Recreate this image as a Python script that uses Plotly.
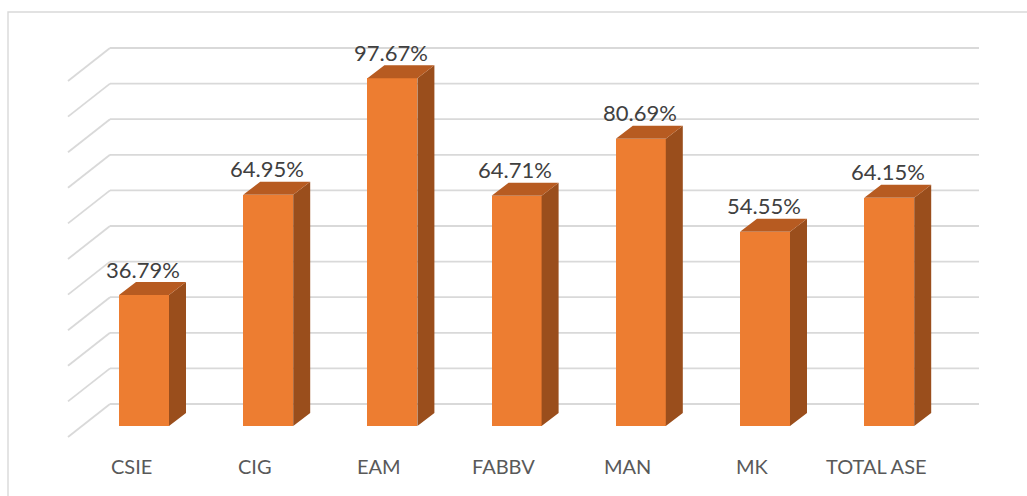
import plotly.graph_objects as go

categories = ["CSIE", "CIG", "EAM", "FABBV", "MAN", "MK", "TOTAL ASE"]
values = [36.79, 64.95, 97.67, 64.71, 80.69, 54.55, 64.15]
grid_values = [0, 10, 20, 30, 40, 50, 60, 70, 80, 90, 100]

FRONT = "#ED7D31"
TOP = "#B75B21"
SIDE = "#9A4E1C"
GRID = "#D9D9D9"

W = 1027
H = 496
# pixel geometry helpers (converted to data units)
PX_X = 124.2          # px per category
PX_Y = 3.56           # px per percent
x0 = -144 / PX_X
x1 = (W - 144) / PX_X
y1 = 426 / PX_Y
y0 = (426 - H) / PX_Y

bw = 50 / PX_X        # front face width
ddx = 17 / PX_X       # depth offset x
ddy = 13 / PX_Y       # depth offset y
wall_dy = 22 / PX_Y   # back wall offset
floor_dx = 42 / PX_X
floor_dy = 33 / PX_Y
wall_x0 = (110 - 144) / PX_X
wall_x1 = (979 - 144) / PX_X

xs = list(range(len(categories)))

fig = go.Figure()

# front faces
fig.add_trace(go.Bar(x=xs, y=values, width=bw, marker=dict(color=FRONT, line=dict(width=0)),
                     hoverinfo="skip", showlegend=False))

# side and top faces
sx, sy = [], []
tx, ty = [], []
for x, v in zip(xs, values):
    r = x + bw / 2
    l = x - bw / 2
    sx += [r, r + ddx, r + ddx, r, r, None]
    sy += [0, ddy, v + ddy, v, 0, None]
    tx += [l, r, r + ddx, l + ddx, l, None]
    ty += [v, v, v + ddy, v + ddy, v, None]
fig.add_trace(go.Scatter(x=sx, y=sy, fill="toself", fillcolor=SIDE, mode="lines",
                         line=dict(width=0, color=SIDE), hoverinfo="skip", showlegend=False))
fig.add_trace(go.Scatter(x=tx, y=ty, fill="toself", fillcolor=TOP, mode="lines",
                         line=dict(width=0, color=TOP), hoverinfo="skip", showlegend=False))

shapes = []
for g in grid_values:
    gy = g + wall_dy
    shapes.append(dict(type="line", xref="x", yref="y", x0=wall_x0, x1=wall_x1, y0=gy, y1=gy,
                       line=dict(color=GRID, width=1.8), layer="below"))
    shapes.append(dict(type="line", xref="x", yref="y", x0=wall_x0 - floor_dx, x1=wall_x0,
                       y0=gy - floor_dy, y1=gy, line=dict(color=GRID, width=1.8), layer="below"))
# chart frame
shapes.append(dict(type="rect", xref="paper", yref="paper", x0=8 / W, x1=1 + 4 / W,
                   y0=-4 / H, y1=1 - 12 / H, line=dict(color=GRID, width=1.4), layer="below"))

annotations = []
for x, v, c in zip(xs, values, categories):
    annotations.append(dict(x=x - 0.01, y=v + ddy + 13 / PX_Y, xref="x", yref="y",
                            text=f"{v:.2f}%", showarrow=False,
                            font=dict(family="Lato", size=22, color="#404040"),
                            xanchor="center", yanchor="middle"))
    annotations.append(dict(x=x - 13 / PX_X, y=-40 / PX_Y, xref="x", yref="y",
                            text=c, showarrow=False,
                            font=dict(family="Lato", size=20, color="#595959"),
                            xanchor="center", yanchor="middle"))

fig.update_layout(
    width=W, height=H,
    margin=dict(l=0, r=0, t=0, b=0),
    paper_bgcolor="white", plot_bgcolor="white",
    xaxis=dict(range=[x0, x1], visible=False, fixedrange=True),
    yaxis=dict(range=[y0, y1], visible=False, fixedrange=True),
    shapes=shapes, annotations=annotations,
    bargap=0, showlegend=False,
)

fig.write_html("out.html", config=dict(displayModeBar=False),
               post_script="document.body.style.margin='0';document.body.style.overflow='hidden';")
